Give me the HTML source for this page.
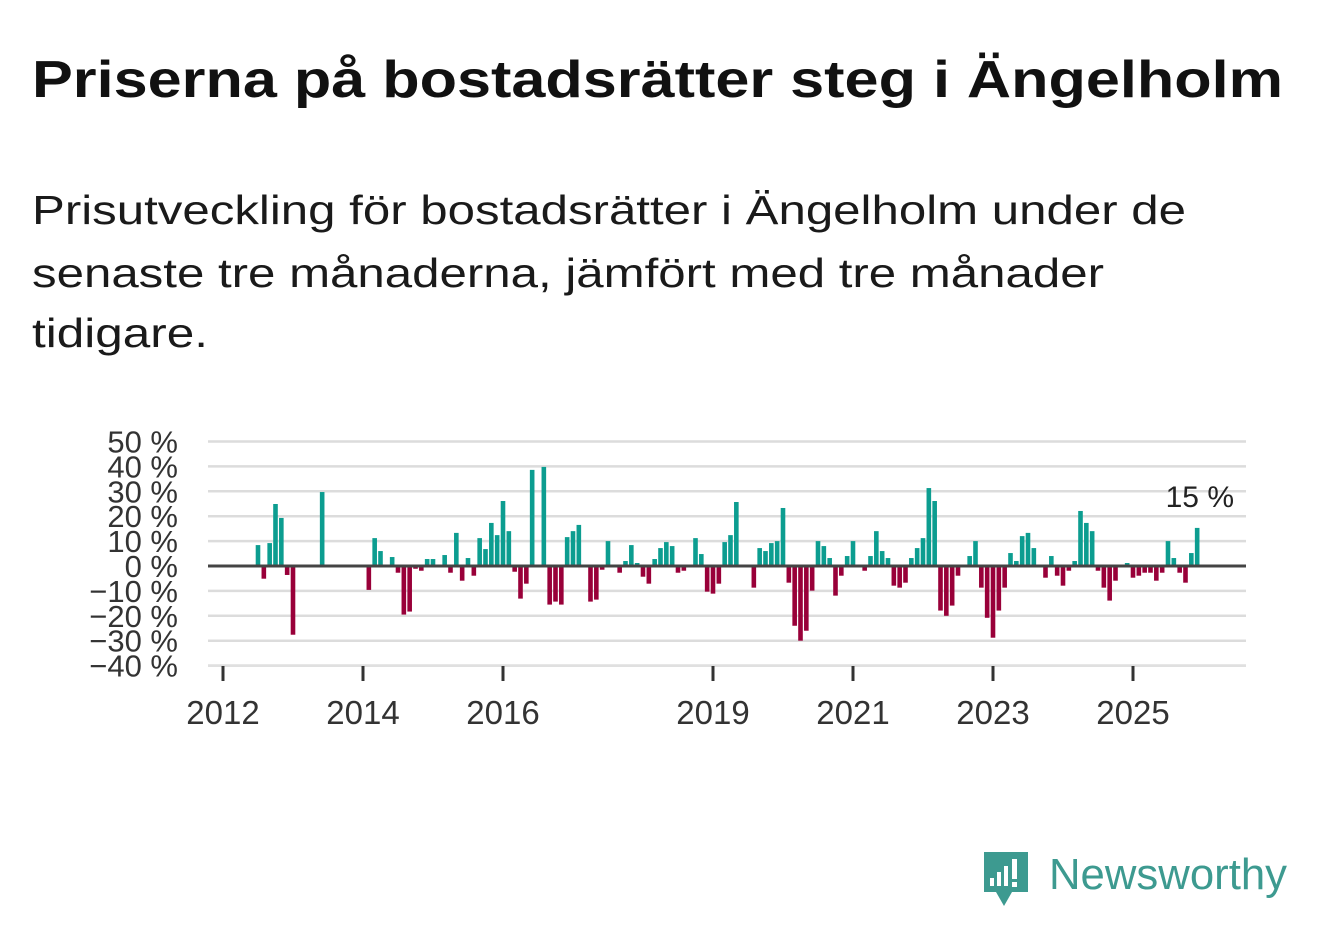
<!DOCTYPE html>
<html><head><meta charset="utf-8">
<style>
html,body{margin:0;padding:0;background:#fff;}
svg{display:block;font-family:"Liberation Sans","DejaVu Sans",sans-serif;}
</style></head>
<body>
<svg width="1322" height="939" viewBox="0 0 1322 939">
<text x="32" y="97" font-size="52" font-weight="bold" fill="#111" textLength="1251" lengthAdjust="spacingAndGlyphs">Priserna på bostadsrätter steg i Ängelholm</text>
<g font-size="41" fill="#1a1a1a">
<text x="32" y="224" textLength="1154" lengthAdjust="spacingAndGlyphs">Prisutveckling för bostadsrätter i Ängelholm under de</text>
<text x="32" y="287" textLength="1072" lengthAdjust="spacingAndGlyphs">senaste tre månaderna, jämfört med tre månader</text>
<text x="32" y="347" textLength="176" lengthAdjust="spacingAndGlyphs">tidigare.</text>
</g>
<g id="grid"></g>
<g id="ylabels"></g>
<g id="bars"></g>
<g id="xaxis"></g>
<text x="1234" y="507" font-size="30" fill="#222" text-anchor="end">15 %</text>
<g>
<path d="M984 852 h44 v40 h-16 l-8 14 l-8 -14 h-12 z" fill="#3d9a90"/>
<rect x="990" y="878" width="4" height="8" fill="#fff"/>
<rect x="997" y="872" width="4" height="14" fill="#fff"/>
<rect x="1004" y="866" width="4" height="20" fill="#fff"/>
<rect x="1012" y="859" width="5" height="20" fill="#fff"/>
<rect x="1012" y="882" width="5" height="5" fill="#fff"/>
<text x="1049" y="889" font-size="44" fill="#3d9a90" textLength="238" lengthAdjust="spacingAndGlyphs">Newsworthy</text>
</g>
<script>
const startYear = 2012;
const yTicks = [50,40,30,20,10,0,-10,-20,-30,-40];
const yTickLabels = ["50 %","40 %","30 %","20 %","10 %","0 %","−10 %","−20 %","−30 %","−40 %"];
const xTickYears = [2012,2014,2016,2019,2021,2023,2025];
// monthly values from Jan 2012 (index 0); null = no data
const values = [
null,null,null,null,null,null,8.4,-5.1,9.2,24.9,19.3,-3.6,
-27.6,null,null,null,null,29.7,null,null,null,null,null,null,
null,-9.6,11.2,6,null,3.6,-2.7,-19.5,-18.3,-1.1,-1.9,2.8,
2.8,null,4.4,-2.7,13.3,-5.9,3.2,-3.9,11.2,6.8,17.3,12.4,
26.1,14,-2.3,-13.1,-7.1,38.6,null,39.8,-15.5,-14.3,-15.5,11.6,
14,16.5,null,-14.3,-13.5,-1.5,10,null,-2.7,2,8.4,1.2,
-4.3,-7.1,2.8,7.2,9.6,8,-2.7,-1.9,null,11.2,4.8,-10.3,
-11.1,-7.1,9.6,12.4,25.7,null,null,-8.7,7.2,6,9.2,10,
23.3,-6.7,-24,-30,-26,-9.9,10,8,3.2,-11.9,-3.9,4,
10,null,-1.9,4,14,6,3.2,-7.9,-8.7,-6.7,3.2,7.2,
11.2,31.3,26.1,-17.9,-20,-15.9,-3.9,null,4,10,-8.7,-20.8,
-28.8,-17.9,-8.7,5.2,2,12,13.3,7.2,null,-4.7,4,-3.9,
-7.9,-1.9,2,22.1,17.3,14,-1.9,-8.7,-13.9,-5.9,null,1.2,
-4.7,-3.9,-2.7,-2.7,-5.9,-2.7,10,3.2,-2.7,-6.7,5.2,15.3
];
const NS="http://www.w3.org/2000/svg";
const x0=223, pxPerYear=70, plotL=208, plotR=1246;
const y0=566, pxPerPct=2.49;
const xs = m => x0 + m*pxPerYear/12;
const ys = v => y0 - v*pxPerPct;
function mk(tag, attrs, parent){const e=document.createElementNS(NS,tag);for(const k in attrs)e.setAttribute(k,attrs[k]);parent.appendChild(e);return e;}
const grid=document.getElementById('grid'), yl=document.getElementById('ylabels'), bars=document.getElementById('bars'), xa=document.getElementById('xaxis');
yTicks.forEach((t,i)=>{
  if(t!==0){const l=mk('line',{x1:plotL,x2:plotR,y1:ys(t),y2:ys(t),stroke:'#dcdcdc','stroke-width':2.5},grid);
  
  }
  const tx=mk('text',{x:178,y:ys(t)+11,'font-size':31,fill:'#333','text-anchor':'end'},yl);
  tx.textContent=yTickLabels[i];
  
  
});
values.forEach((v,m)=>{
  if(v===null)return;
  const r=mk('rect',{x:xs(m)-2.3,width:4.6,y:Math.min(ys(v),y0),height:Math.abs(ys(v)-y0),fill:v>=0?'#0c9d90':'#990039'},bars);
  
  
});
const zl=mk('line',{x1:plotL,x2:plotR,y1:y0,y2:y0,stroke:'#444','stroke-width':3},bars);


const bl=mk('line',{x1:plotL,x2:plotR,y1:665,y2:665,stroke:'#e2e2e2','stroke-width':1.5},xa);


xTickYears.forEach(yr=>{
  const x=xs((yr-startYear)*12);
  const tk=mk('line',{x1:x,x2:x,y1:666,y2:681,stroke:'#333','stroke-width':3},xa);
  
  
  const t=mk('text',{x:x,y:724,'font-size':33,fill:'#333','text-anchor':'middle'},xa);
  t.textContent=yr;
  
  
});
</script>
</svg>
</body></html>
